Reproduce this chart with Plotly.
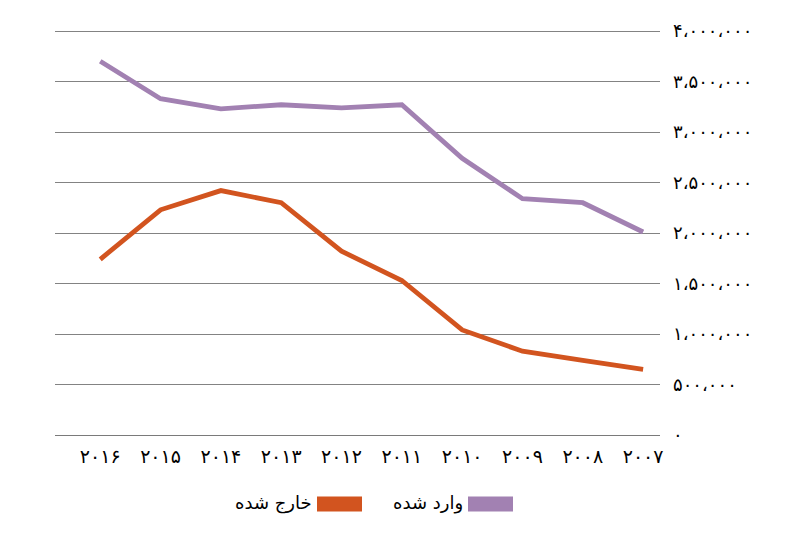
import plotly.graph_objects as go

# سال‌ها از چپ به راست (مثل تصویر اصلی)
years = ["۲۰۱۶", "۲۰۱۵", "۲۰۱۴", "۲۰۱۳", "۲۰۱۲", "۲۰۱۱", "۲۰۱۰", "۲۰۰۹", "۲۰۰۸", "۲۰۰۷"]

imported = [3700000, 3330000, 3230000, 3270000, 3240000, 3270000, 2740000, 2340000, 2300000, 2010000]
exported = [1740000, 2230000, 2420000, 2300000, 1820000, 1530000, 1040000, 830000, 740000, 650000]

y_vals = [0, 500000, 1000000, 1500000, 2000000, 2500000, 3000000, 3500000, 4000000]
y_text = ["۰", "۵۰۰،۰۰۰", "۱،۰۰۰،۰۰۰", "۱،۵۰۰،۰۰۰", "۲،۰۰۰،۰۰۰",
          "۲،۵۰۰،۰۰۰", "۳،۰۰۰،۰۰۰", "۳،۵۰۰،۰۰۰", "۴،۰۰۰،۰۰۰"]

purple = "#a281b2"
orange = "#d2541f"
font = "DejaVu Sans"

# صفحه ۸ پیکسل حاشیه دارد
W, H = 800, 538
L, R, T, B = 47, 148, 17, 111


def px(x):
    return (x - 8 - L) / (W - L - R)


def py(y):
    return (H - B - (y - 8)) / (H - T - B)


fig = go.Figure()
fig.add_trace(go.Scatter(x=years, y=imported, mode="lines", name="وارد شده",
                         line=dict(color=purple, width=4.8)))
fig.add_trace(go.Scatter(x=years, y=exported, mode="lines", name="خارج شده",
                         line=dict(color=orange, width=4.8)))

fig.update_layout(
    width=W, height=H,
    margin=dict(l=L, r=R, t=T, b=B),
    plot_bgcolor="white", paper_bgcolor="white",
    showlegend=False,
    font=dict(family=font, color="black"),
)
fig.update_xaxes(type="category", range=[-0.75, 9.28], showgrid=False,
                 showline=True, linecolor="#7a7a7a", linewidth=1.2,
                 ticks="", ticklabelstandoff=4, tickfont=dict(size=19, family=font))
fig.update_yaxes(side="right", range=[0, 4030000], tickvals=y_vals, ticktext=y_text,
                 showgrid=True, gridcolor="#838383", gridwidth=1, zeroline=False,
                 ticks="", ticklabelstandoff=12, tickfont=dict(size=18, family=font))

# راهنما (به سبک راست به چپ: متن سمت چپ مربع رنگی)
legend_items = [("وارد شده", purple, 468, 513), ("خارج شده", orange, 317, 362)]
for name, color, x0, x1 in legend_items:
    fig.add_shape(type="rect", xref="paper", yref="paper",
                  x0=px(x0), x1=px(x1), y0=py(512), y1=py(497),
                  fillcolor=color, line=dict(width=0))
    fig.add_annotation(text=name, xref="paper", yref="paper", x=px(x0 - 3), y=py(504),
                       xanchor="right", yanchor="middle", showarrow=False,
                       font=dict(size=18, family=font, color="black"))

fig.write_html("out.html")
